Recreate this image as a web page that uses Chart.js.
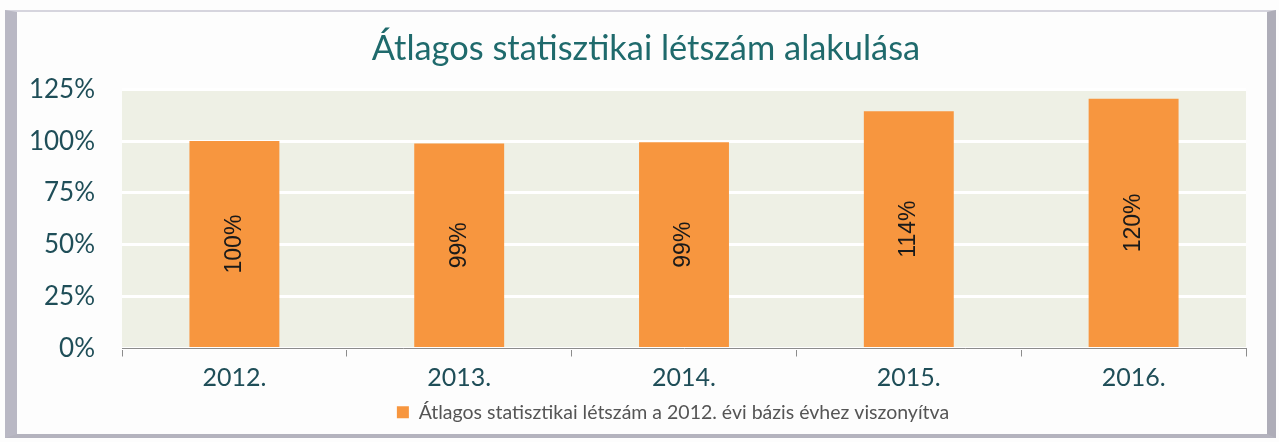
<!DOCTYPE html>
<html>
<head>
<meta charset="utf-8">
<script src="https://cdn.jsdelivr.net/npm/chart.js@4"></script>
<style>
    html, body { margin: 0; padding: 0; background: #fdfdfd; }
    #wrap { position: relative; width: 1279px; height: 442px; }
    #frame {
        position: absolute; left: 5px; top: 10px; right: 3px; bottom: 4px;
        border-left: 12px solid #b9b8c4;
        border-right: 9px solid #aeadb8;
        border-top: 2px solid #d6d5de;
        border-bottom: 4px solid #b4b3be;
        pointer-events: none;
    }
</style>
</head>
<body>
<div id="wrap">
    <canvas id="chart" width="1279" height="442"></canvas>
    <div id="frame"></div>
</div>
<script>
const years = ["2012.", "2013.", "2014.", "2015.", "2016."];
const values = [100, 98.9, 99.4, 114.4, 120.4];
const seriesName = "Átlagos statisztikai létszám a 2012. évi bázis évhez viszonyítva";
const chartTitle = "Átlagos statisztikai létszám alakulása";

// háttér a rajzterületnek
const plotBackground = {
    id: "plotBackground",
    beforeDraw(chart) {
        const a = chart.chartArea;
        const ctx = chart.ctx;
        ctx.save();
        ctx.fillStyle = "#eef0e5";
        ctx.fillRect(a.left, a.top, a.right - a.left, a.bottom - a.top);
        ctx.restore();
    },
};

// cím és jelmagyarázat kicsit jobbra, mint az eredetin
const shiftBoxes = {
    id: "shiftBoxes",
    afterLayout(chart) {
        if (chart.titleBlock) {
            chart.titleBlock.left += 23;
            chart.titleBlock.right += 23;
        }
        if (chart.legend) {
            chart.legend.left += 50;
            chart.legend.right += 50;
        }
    },
};

// függőleges címkék az oszlopokon
const barLabels = {
    id: "barLabels",
    afterDatasetsDraw(chart) {
        const ctx = chart.ctx;
        chart.getDatasetMeta(0).data.forEach((bar, i) => {
            const v = chart.data.datasets[0].data[i];
            ctx.save();
            ctx.translate(bar.x, (bar.y + bar.base) / 2);
            ctx.rotate(-Math.PI / 2);
            ctx.font = "23px 'Liberation Sans', Arial, sans-serif";
            ctx.fillStyle = "#1a1a1a";
            ctx.textAlign = "center";
            ctx.textBaseline = "middle";
            ctx.fillText(Math.round(v) + "%", 0, 0);
            ctx.restore();
        });
    },
};

new Chart(document.getElementById("chart"), {
    type: "bar",
    data: {
        labels: years,
        datasets: [
            {
                label: seriesName,
                data: values,
                backgroundColor: "#f7963f",
                categoryPercentage: 0.8,
                barPercentage: 0.5,
            },
        ],
    },
    options: {
        responsive: false,
        animation: false,
        layout: {
            padding: { left: 0, right: 33, top: 28, bottom: 10 },
        },
        plugins: {
            title: {
                display: true,
                text: chartTitle,
                color: "#1f6a6c",
                font: { family: "Lato", size: 34.4, weight: "normal" },
                padding: { top: 0, bottom: 20 },
            },
            legend: {
                position: "bottom",
                labels: {
                    color: "#555555",
                    font: { family: "Lato", size: 19.5 },
                    boxWidth: 12,
                    boxHeight: 12,
                    padding: 4,
                },
            },
            tooltip: { enabled: false },
        },
        scales: {
            x: {
                grid: {
                    offset: true,
                    drawOnChartArea: false,
                    drawTicks: true,
                    tickLength: 8,
                    color: "#8c8c8c",
                },
                border: { display: true, color: "#8c8c8c", width: 1 },
                ticks: {
                    color: "#1f4e58",
                    font: { family: "Lato", size: 25 },
                    padding: 6,
                },
            },
            y: {
                min: 0,
                max: 125,
                afterFit(scale) {
                    scale.width = 122;
                },
                grid: {
                    color: "#ffffff",
                    lineWidth: 3,
                    drawTicks: false,
                },
                border: { display: false },
                ticks: {
                    stepSize: 25,
                    color: "#1f4e58",
                    font: { family: "Lato", size: 26 },
                    padding: 27,
                    callback: (v) => v + "%",
                },
            },
        },
    },
    plugins: [plotBackground, shiftBoxes, barLabels],
});
</script>
</body>
</html>
